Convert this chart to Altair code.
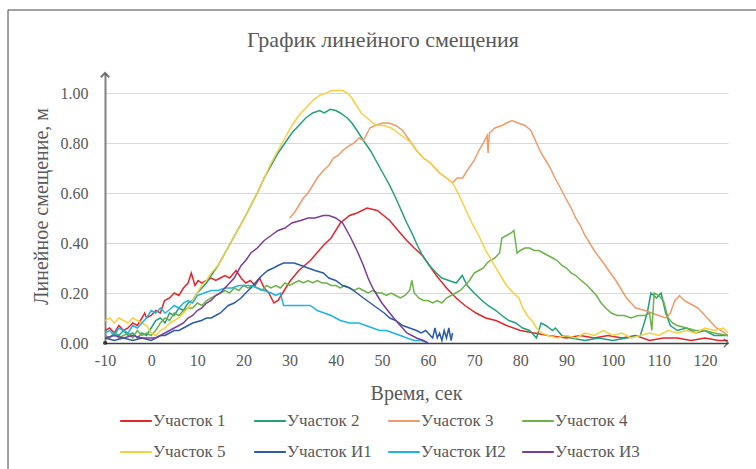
import altair as alt
import pandas as pd

TITLE = "График линейного смещения"
NAMES = ["Участок 1", "Участок 2", "Участок 3", "Участок 4",
         "Участок 5", "Участок И1", "Участок И2", "Участок И3"]
COLORS = ["#e3262b", "#22a07a", "#f09a6a", "#6cb24a",
          "#f7cf3f", "#2b5ca8", "#1fb3e6", "#7a3d9a"]

X_TICKS = list(range(-10, 121, 10))
Y_TICKS = [0.0, 0.2, 0.4, 0.6, 0.8, 1.0]

U1 = [(-10,0.05),(-9,0.06),(-8,0.04),(-7,0.07),(-6,0.05),(-5,0.06),(-4,0.08),(-3,0.07),(-2,0.1),(-1.4,0.12),
      (-1,0.1),(0,0.11),(1,0.13),(2,0.12),(2.9,0.17),(4,0.18),(5,0.2),(6,0.19),(7,0.22),(8,0.24),(8.7,0.28),
      (9.5,0.23),(10.2,0.25),(11,0.24),(12,0.25),(13,0.26),(14,0.25),(15,0.26),(16,0.27),(17,0.26),(18.4,0.29),
      (19.5,0.26),(20.5,0.24),(21.5,0.25),(22.5,0.23),(23.5,0.26),(24.5,0.22),(25.5,0.2),(26.6,0.16),(27.5,0.17),
      (28.5,0.2),(29.5,0.23),(30.2,0.25),(32,0.29),(34.5,0.33),(37.3,0.39),(39,0.42),(41,0.48),(43,0.51),
      (44.6,0.52),(46.8,0.54),(49,0.53),(51.7,0.49),(53.5,0.45),(55.4,0.41),(57,0.38),(58.8,0.35),(60.3,0.31),
      (61.8,0.27),(64,0.22),(66.1,0.18),(68,0.15),(70.4,0.12),(72.5,0.1),(74.7,0.09),(77,0.07),(80,0.05),
      (83,0.04),(86,0.03),(90,0.02),(93,0.03),(96,0.02),(99,0.03),(102,0.02),(105,0.03),(108,0.01),(111,0.02),
      (114,0.02),(117,0.01),(120,0.02),(123,0.01),(125,0.01)]

U2 = [(-10,0.03),(-9,0.02),(-8,0.04),(-7,0.03),(-6,0.05),(-5,0.03),(-4,0.04),(-3,0.02),(-2,0.04),(-1,0.03),
      (0,0.06),(1,0.09),(2,0.1),(3,0.08),(4,0.12),(5,0.11),(6,0.14),(7,0.13),(8,0.16),(9,0.17),(10,0.2),
      (11,0.22),(12,0.24),(13,0.27),(14.5,0.31),(16,0.36),(17.5,0.41),(19,0.46),(20.5,0.51),(21.6,0.55),
      (23,0.6),(24.5,0.66),(26,0.71),(27.5,0.76),(29,0.8),(30.5,0.84),(32,0.87),(33.5,0.9),(35,0.92),
      (36.5,0.93),(37.5,0.92),(38.8,0.935),(40,0.93),(41,0.92),(42.5,0.9),(43.5,0.88),(44.6,0.85),(46,0.81),
      (47.5,0.77),(49,0.72),(50.5,0.67),(51.7,0.63),(53,0.58),(54.2,0.53),(55.4,0.48),(56.5,0.44),(57.7,0.39),
      (58.8,0.35),(60.3,0.31),(61.8,0.28),(63,0.26),(64.5,0.25),(66.1,0.24),(67.4,0.27),(68.5,0.23),(70,0.2),
      (71.7,0.17),(73,0.15),(74.7,0.13),(76,0.11),(77.5,0.09),(79,0.08),(80.5,0.06),(82,0.05),(83.5,0.02),
      (84.5,0.08),(85.5,0.07),(87,0.05),(87.6,0.06),(89,0.03),(91,0.02),(94,0.01),(97,0.02),(100,0.01),
      (103,0.02),(106,0.03),(107.5,0.12),(108.3,0.2),(109.5,0.18),(110.5,0.2),(111.5,0.12),(112.5,0.07),
      (114,0.05),(116,0.06),(118,0.04),(120,0.05),(122,0.03),(125,0.03)]

U3 = [(30,0.5),(31,0.52),(32,0.55),(33,0.58),(34,0.6),(35,0.63),(36,0.66),(37.3,0.69),(38.5,0.71),(39.5,0.74),
      (40.5,0.75),(41.5,0.77),(43,0.79),(44,0.8),(45,0.82),(46,0.81),(47.4,0.86),(48.5,0.87),(50.2,0.88),
      (51.5,0.88),(53,0.87),(54.5,0.85),(56,0.81),(57.5,0.77),(59,0.74),(60.5,0.72),(62.5,0.68),(64,0.66),
      (65.3,0.64),(66.3,0.66),(67.5,0.66),(68.5,0.69),(70,0.73),(71,0.77),(72,0.8),(72.8,0.83),(73,0.76),
      (73.3,0.84),(74.5,0.86),(76,0.87),(77,0.88),(78.2,0.89),(79.5,0.88),(81,0.87),(82.3,0.85),(83.5,0.8),
      (84.5,0.76),(85.5,0.73),(86.5,0.7),(87.5,0.66),(88.7,0.62),(89.8,0.58),(91,0.54),(92,0.5),(93,0.47),
      (94,0.43),(94.7,0.41),(96,0.37),(97.2,0.34),(98.4,0.31),(99.5,0.28),(100.7,0.25),(102,0.21),(103,0.18),
      (104,0.16),(105,0.14),(107,0.13),(108.5,0.12),(110,0.11),(111.5,0.1),(112.5,0.12),(113.5,0.17),
      (114.5,0.19),(115.5,0.17),(116.5,0.16),(117.5,0.15),(118.5,0.14),(119.5,0.12),(120.5,0.1),(121.5,0.08),
      (122.5,0.06),(123.5,0.05),(125,0.03)]

U4 = [(-10,0.03),(-9,0.02),(-8,0.04),(-7,0.02),(-6,0.03),(-5,0.04),(-4,0.02),(-3,0.05),(-2,0.03),(-1,0.04),
      (0,0.03),(1,0.05),(2,0.08),(3,0.1),(4,0.09),(5,0.12),(6,0.11),(7,0.13),(8,0.14),(9,0.14),(10,0.16),
      (11,0.15),(12,0.17),(13,0.18),(14,0.19),(15,0.2),(16,0.21),(17,0.2),(18,0.22),(19,0.21),(20,0.23),
      (21,0.22),(22,0.23),(23,0.22),(24,0.21),(25,0.23),(26,0.22),(27,0.23),(28,0.22),(29,0.24),(30,0.23),
      (31,0.24),(32,0.25),(33,0.24),(34,0.25),(35,0.24),(36,0.25),(37,0.24),(38,0.24),(39,0.23),(40,0.23),
      (41,0.22),(42,0.23),(43,0.22),(44,0.21),(45,0.22),(46,0.21),(47,0.2),(48,0.21),(49,0.2),(50,0.2),
      (51,0.19),(52,0.2),(53,0.19),(54,0.18),(55,0.19),(56,0.21),(56.5,0.25),(57,0.2),(58,0.18),(59,0.17),
      (60,0.17),(61,0.16),(62,0.17),(63,0.16),(64,0.18),(65,0.19),(66,0.2),(67,0.21),(68,0.23),(69,0.25),
      (70,0.28),(71,0.29),(72,0.3),(72.8,0.32),(73.5,0.33),(74.5,0.34),(75.5,0.36),(76,0.42),(77,0.43),
      (78,0.44),(78.6,0.45),(79.3,0.36),(80,0.37),(81,0.38),(82,0.38),(83,0.37),(84,0.37),(85,0.36),(86,0.35),
      (87,0.34),(88,0.33),(89,0.31),(90,0.3),(91,0.28),(92,0.27),(93.2,0.25),(94.5,0.23),(95.5,0.21),
      (96.5,0.19),(97.5,0.16),(98.5,0.14),(99.7,0.12),(101,0.11),(102.5,0.11),(104,0.1),(105.5,0.11),
      (107,0.11),(108,0.12),(108.5,0.05),(109,0.2),(110,0.19),(111,0.17),(112,0.1),(113,0.08),(114,0.07),
      (116,0.06),(118,0.05),(120,0.05),(122,0.04),(125,0.03)]

U5 = [(-10,0.09),(-9,0.1),(-8,0.08),(-7,0.1),(-6,0.09),(-5,0.08),(-4,0.1),(-3,0.09),(-2,0.08),(-1,0.07),
      (0,0.04),(1,0.03),(2,0.05),(3,0.06),(4,0.08),(5,0.09),(6,0.1),(7,0.12),(8,0.14),(9,0.17),(10,0.2),
      (10.9,0.23),(12,0.25),(13,0.28),(14.5,0.31),(16,0.36),(17.5,0.41),(19,0.46),(20.5,0.51),(21.6,0.55),
      (23,0.6),(24.5,0.66),(26,0.72),(27.5,0.77),(29,0.82),(30.5,0.87),(32,0.91),(33.5,0.94),(35,0.97),
      (36.5,0.99),(38,1.0),(39,1.01),(40.3,1.01),(41.5,1.01),(42.5,1.0),(43.5,0.98),(44.5,0.95),(45.5,0.92),
      (46.8,0.9),(48,0.88),(49,0.87),(50.5,0.87),(52,0.86),(53.5,0.84),(55,0.82),(56.5,0.8),(57.5,0.77),
      (59,0.74),(60.5,0.72),(62.5,0.68),(64,0.66),(65.3,0.64),(66.5,0.6),(67.5,0.56),(68.5,0.52),(69.5,0.48),
      (70.4,0.45),(71.5,0.41),(72.5,0.37),(73.5,0.34),(74.7,0.3),(76,0.26),(77,0.23),(78.5,0.2),(79.7,0.18),
      (80.5,0.14),(81.5,0.11),(82.5,0.09),(83.5,0.06),(84.6,0.04),(86,0.03),(88,0.02),(90,0.03),(92,0.02),
      (94,0.04),(96,0.03),(98,0.05),(100,0.03),(102,0.04),(104,0.02),(106,0.03),(108,0.04),(110,0.03),
      (112,0.05),(114,0.04),(116,0.05),(118,0.04),(120,0.06),(122,0.05),(124,0.06),(125,0.04)]

UI1 = [(-10,0.02),(-8,0.01),(-6,0.02),(-4,0.01),(-2,0.02),(0,0.01),(1,0.02),(2,0.03),(3,0.03),(4,0.04),
       (5,0.05),(6,0.05),(7,0.06),(8,0.07),(9,0.08),(10.9,0.09),(12,0.1),(13,0.1),(14,0.11),(15,0.12),
       (16.7,0.15),(18,0.16),(19.5,0.18),(20.5,0.2),(21.6,0.22),(23,0.25),(24,0.27),(25.3,0.29),(26.5,0.3),
       (27.5,0.31),(28.7,0.32),(30,0.32),(31,0.32),(32.5,0.31),(34,0.3),(35.5,0.29),(37.3,0.28),(38.5,0.26),
       (40,0.25),(41.5,0.23),(43,0.22),(44.6,0.2),(46,0.18),(47.5,0.16),(49,0.14),(50.5,0.12),(51.7,0.1),
       (53,0.09),(54.5,0.07),(56,0.06),(57.5,0.05),(58.5,0.04),(59.5,0.05),(60.5,0.03),(61,0.02),(61.5,0.06),
       (62,0.02),(62.5,0.04),(63,0.01),(63.5,0.05),(64,0.02),(64.5,0.06),(65,0.01),(65.3,0.04)]

UI2 = [(-10,0.04),(-9,0.05),(-8,0.03),(-7,0.06),(-6,0.05),(-5,0.04),(-4,0.07),(-3,0.06),(-2,0.08),(-1,0.1),
       (0,0.13),(1,0.12),(2,0.14),(3,0.12),(3.8,0.13),(5,0.15),(6,0.14),(7,0.16),(8,0.17),(9,0.16),(10,0.19),
       (11.5,0.2),(13,0.21),(14.5,0.21),(16,0.22),(17.5,0.22),(19,0.23),(20.1,0.23),(21.5,0.23),(23,0.22),
       (24.5,0.21),(26,0.2),(27,0.19),(28,0.2),(28.7,0.15),(30.2,0.15),(32,0.15),(34.5,0.15),(36,0.13),
       (37.5,0.12),(39,0.11),(41,0.09),(43,0.08),(45,0.08),(46.5,0.07),(48,0.06),(49.5,0.05),(51,0.05),
       (52.5,0.04),(54,0.03),(55.4,0.02),(57,0.01),(58.5,0.01),(60,0.0)]

UI3 = [(-10,0.02),(-8,0.03),(-6,0.02),(-4,0.03),(-2,0.02),(0,0.02),(1,0.02),(2,0.03),(3,0.04),(4,0.05),
       (5,0.06),(6,0.07),(7,0.08),(8,0.1),(9,0.11),(10,0.13),(11,0.14),(12,0.16),(13,0.17),(14,0.19),(15,0.2),
       (16,0.22),(17,0.24),(18,0.26),(19.5,0.31),(20.5,0.33),(21.6,0.36),(23,0.38),(24.5,0.41),(26,0.43),
       (27.5,0.45),(29,0.46),(30.5,0.48),(32.4,0.49),(34,0.5),(35.5,0.5),(37.3,0.51),(38.5,0.51),(40,0.5),
       (41.5,0.48),(43,0.43),(44.6,0.37),(46,0.31),(47,0.26),(48,0.22),(49,0.19),(50,0.16),(51.7,0.12),
       (53,0.09),(54,0.07),(55.4,0.04),(56.5,0.03),(57.5,0.02),(59,0.01),(60,0.0)]

SERIES = [U1, U2, U3, U4, U5, UI1, UI2, UI3]

rows = []
for name, pts in zip(NAMES, SERIES):
    for i, (t, v) in enumerate(pts):
        rows.append({"t": t, "v": v, "s": name, "i": i})
df = pd.DataFrame(rows)

FONT = "Times New Roman, Liberation Serif, DejaVu Serif, serif"
GREY = "#595959"

lines = alt.Chart(df).mark_line(strokeWidth=1.5, clip=True).encode(
    x=alt.X("t:Q", title="Время, сек",
            scale=alt.Scale(domain=[-10, 125], nice=False, zero=False),
            axis=alt.Axis(values=X_TICKS, grid=False, ticks=False, labelPadding=9,
                          labelFlush=False, labelOverlap=False,
                          labelExpr="datum.value < 0 ? '-' + abs(datum.value) : '' + datum.value",
                          labelFont=FONT, labelFontSize=16, labelColor=GREY,
                          domainColor="#404040", domainWidth=1.5,
                          titleFont=FONT, titleFontSize=20, titleColor=GREY,
                          titleFontWeight="normal", titleX=311, titleY=50,
                          titleBaseline="middle", titleAlign="center")),
    y=alt.Y("v:Q", title="Линейное смещение, м",
            scale=alt.Scale(domain=[0, 1.08], nice=False),
            axis=alt.Axis(values=Y_TICKS, format=".2f", grid=True, gridColor="#d9d9d9",
                          gridWidth=1, ticks=False, labelPadding=17,
                          labelFont=FONT, labelFontSize=16, labelColor=GREY,
                          domainColor="#808080", domainWidth=2,
                          titleFont=FONT, titleFontSize=20, titleColor=GREY,
                          titleFontWeight="normal", titleX=-64, titleY=133,
                          titleAngle=270, titleBaseline="middle", titleAlign="center")),
    color=alt.Color("s:N", scale=alt.Scale(domain=NAMES, range=COLORS),
                    legend=alt.Legend(title=None, orient="none", legendX=14, legendY=331,
                                      direction="horizontal", columns=4, gridAlign="all",
                                      symbolType="stroke", symbolSize=1000,
                                      symbolStrokeWidth=2, labelOffset=0,
                                      labelFont=FONT, labelFontSize=17, labelColor=GREY,
                                      columnPadding=12, rowPadding=6)),
    order="i:Q",
)

marker = pd.DataFrame({"k": [0]})
title = alt.Chart(marker).mark_text(text=TITLE, font=FONT, fontSize=22, color=GREY,
                                    align="center", baseline="middle").encode(
    x=alt.value(278), y=alt.value(-33))
y_arrow = alt.Chart(marker).mark_point(shape="M-1,1L0,0L1,1", filled=False,
                                       size=70, strokeWidth=2, color="#404040").encode(
    x=alt.value(0), y=alt.value(0))
x_arrow = alt.Chart(marker).mark_point(shape="M-1,1L0,0L1,1", filled=False,
                                       size=70, strokeWidth=1.5, color="#404040",
                                       angle=90).encode(
    x=alt.value(623), y=alt.value(270))
origin = alt.Chart(marker).mark_point(filled=True, size=18, color="#000000").encode(
    x=alt.value(0), y=alt.value(270))
frame = alt.Chart(marker).mark_rect(fillOpacity=0, stroke="#444444", strokeWidth=1).encode(
    x=alt.value(-97), y=alt.value(-63), x2=alt.value(660), y2=alt.value(420))

chart = alt.layer(frame, title, lines, y_arrow, x_arrow, origin).properties(
    width=623, height=270,
    padding={"left": 105, "top": 73, "right": 28, "bottom": 126},
    autosize=alt.AutoSizeParams(type="none"),
    background="white",
).configure_view(stroke=None)

chart.save("out.html", embed_options={"renderer": "svg", "actions": False})
